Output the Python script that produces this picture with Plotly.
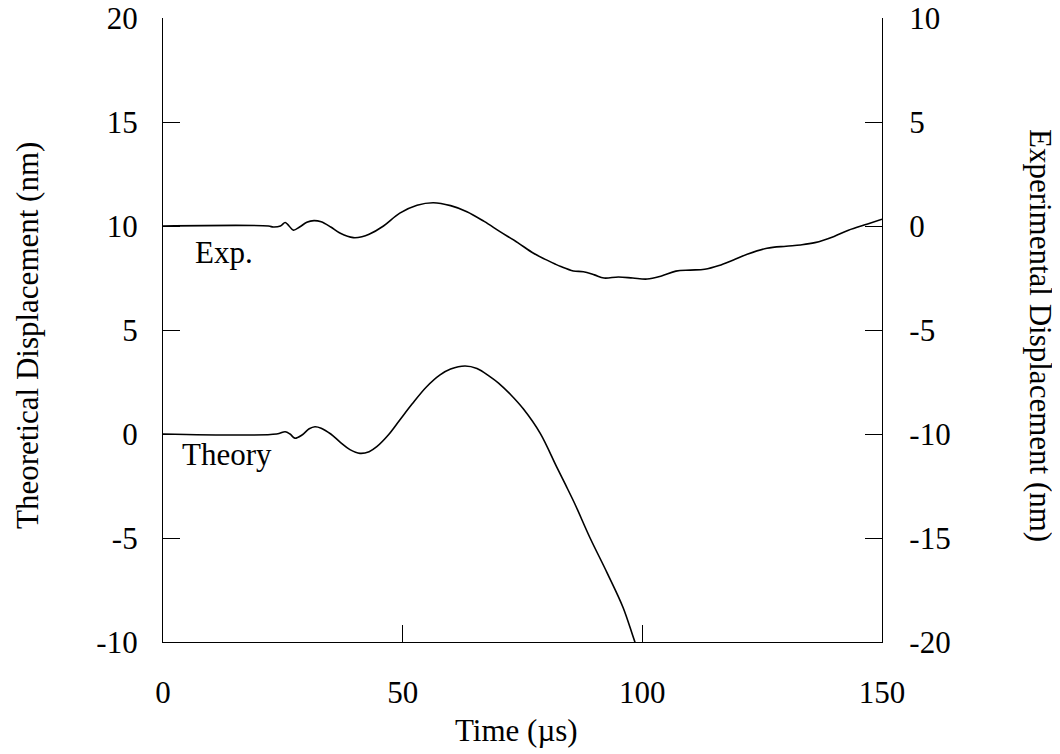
import plotly.graph_objects as go

# Experimental displacement (nm), right axis
t_exp = [0, 22, 23, 24.5, 25.5, 26.3, 27.2, 28.5, 30, 31.5, 33, 35, 37, 39.7, 41.5, 43,
         46, 49.4, 53, 56.4, 60, 63.4, 67, 70.3, 74, 77.3, 80, 81.8, 83, 85.6, 87.7, 90, 92,
         95, 98, 101, 104, 107, 110, 113, 116, 119, 122, 126, 130, 133, 136, 140, 143, 147, 150]
v_exp = [0, 0, -0.05, 0.0, 0.17, 0.0, -0.2, -0.05, 0.18, 0.26, 0.2, -0.05, -0.35, -0.56, -0.52, -0.4,
         0.0, 0.62, 1.0, 1.12, 0.98, 0.69, 0.22, -0.27, -0.8, -1.31, -1.63, -1.83, -1.95, -2.16, -2.2, -2.35, -2.5,
         -2.45, -2.5, -2.55, -2.4, -2.17, -2.12, -2.08, -1.9, -1.63, -1.35, -1.07, -0.97, -0.91, -0.8, -0.5, -0.2, 0.1, 0.33]

# Theoretical displacement (nm), left axis
t_th = [0, 23.7, 25.5, 26.5, 27.5, 29, 30.5, 31.7, 33, 35, 37, 39, 41.1, 43, 44.6, 47, 49.4,
        52, 55, 57.8, 60, 63, 65.5, 68.2, 70, 72.5, 75.2, 78.7, 82.1, 84, 86, 89.1, 92.6, 96, 98.5, 100]
v_th = [0, 0, 0.11, 0.0, -0.2, -0.05, 0.25, 0.35, 0.28, 0.0, -0.4, -0.75, -0.93, -0.85, -0.61, -0.05, 0.67,
        1.45, 2.27, 2.84, 3.12, 3.27, 3.15, 2.76, 2.45, 1.9, 1.2, 0.03, -1.57, -2.45, -3.4, -5.0, -6.65, -8.35,
        -10.03, -10.9]

x_ticks = [0, 50, 100, 150]
y_left_ticks = [-10, -5, 0, 5, 10, 15, 20]
y_left_text = ["-10", "-5", "0", "5", "10", "15", "20"]
y_right_ticks = [-20, -15, -10, -5, 0, 5, 10]
y_right_text = ["-20", "-15", "-10", "-5", "0", "5", "10"]

FONT = "Liberation Serif, Times New Roman, serif"
FS = 31

fig = go.Figure()
fig.add_trace(go.Scatter(x=t_th, y=v_th, mode="lines", yaxis="y",
                         line=dict(color="black", width=1.6, shape="spline", smoothing=1.0),
                         showlegend=False))
fig.add_trace(go.Scatter(x=t_exp, y=v_exp, mode="lines", yaxis="y2",
                         line=dict(color="black", width=1.6, shape="spline", smoothing=1.0),
                         showlegend=False))

axis_common = dict(showgrid=False, zeroline=False, showline=True, linecolor="black",
                   linewidth=1.3, ticks="inside", ticklen=17, tickwidth=1.2, tickcolor="black",
                   automargin=False, ticklabeloverflow="allow",
                   tickfont=dict(family=FONT, size=FS, color="black"))

fig.update_layout(
    template="none",
    width=1052, height=746,
    margin=dict(l=155, r=178, t=10, b=112, autoexpand=False),
    paper_bgcolor="white", plot_bgcolor="white",
    font=dict(family=FONT, size=FS, color="black"),
    xaxis=dict(range=[0, 150], tickvals=x_ticks, ticklabelstandoff=23, **axis_common),
    yaxis=dict(range=[-10, 20], tickvals=y_left_ticks, ticktext=y_left_text,
               ticklabelstandoff=18, **axis_common),
    yaxis2=dict(range=[-20, 10], tickvals=y_right_ticks, ticktext=y_right_text,
                overlaying="y", side="right", ticklabelstandoff=20, **axis_common),
    annotations=[
        dict(text="Time (µs)", xref="paper", yref="paper", x=0.491, y=-0.1426,
             xanchor="center", yanchor="middle", showarrow=False, font=dict(family=FONT, size=FS)),
        dict(text="Theoretical Displacement (nm)", xref="paper", yref="paper", x=-0.1878, y=0.492,
             xanchor="center", yanchor="middle", textangle=-90, showarrow=False,
             font=dict(family=FONT, size=FS)),
        dict(text="Experimental Displacement (nm)", xref="paper", yref="paper", x=1.2198, y=0.492,
             xanchor="center", yanchor="middle", textangle=90, showarrow=False,
             font=dict(family=FONT, size=FS)),
        dict(text="Exp.", xref="x", yref="y", x=6.3, y=8.75, xanchor="left", yanchor="middle",
             showarrow=False, font=dict(family=FONT, size=FS)),
        dict(text="Theory", xref="x", yref="y", x=3.6, y=-1.0, xanchor="left", yanchor="middle",
             showarrow=False, font=dict(family=FONT, size=FS)),
    ],
)

fig.write_html("out.html")
